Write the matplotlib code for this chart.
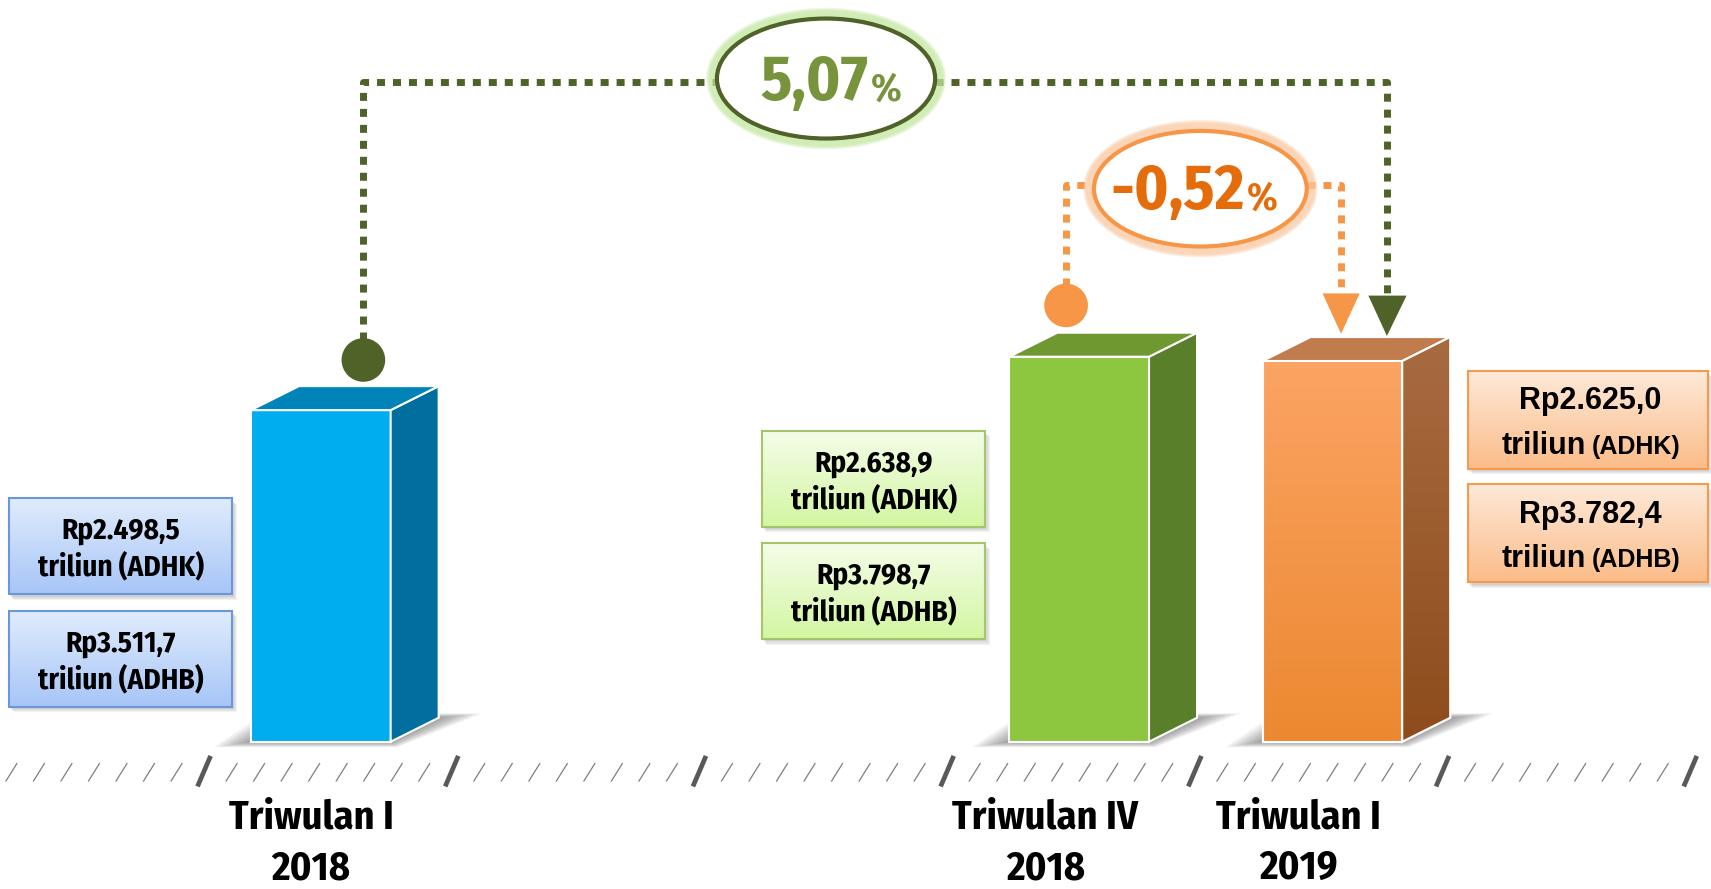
import numpy as np
import matplotlib.pyplot as plt
from matplotlib.patches import Polygon, Rectangle, Ellipse
from matplotlib.colors import to_rgba

# values shown in the chart
quarters = ['Triwulan I\n2018', 'Triwulan IV\n2018', 'Triwulan I\n2019']
adhk = ['Rp2.498,5', 'Rp2.638,9', 'Rp2.625,0']
adhb = ['Rp3.511,7', 'Rp3.798,7', 'Rp3.782,4']
bar_heights = [304, 353, 349]       # drawn height of each block (picture units)
growth = ['5,07', '-0,52']

NARROW = ['Fira Sans Condensed', 'DejaVu Sans']
WIDE = ['Liberation Sans', 'DejaVu Sans']

# layout, in units of the 1568x815 reference view
W, H = 1568, 815
base_y = 680
bar_x = [230, 925, 1157]
bar_w = 128
dx, dy = 44, 22

side_col = ['#006E9E', '#5A7F2A', '#9A5C2E']
top_col = ['#0084B7', '#6F9830', '#C17C4E']

fig = plt.figure(figsize=(17.11, 8.89), dpi=100)
ax = fig.add_axes([0, 0, 1, 1])
ax.set_xlim(0, W)
ax.set_ylim(H, 0)
ax.axis('off')


def gradient(patch, c_top, c_bot, y0, y1, x0, x1, z):
    n = 256
    a = np.array(to_rgba(c_top))
    b = np.array(to_rgba(c_bot))
    t = np.linspace(0, 1, n)[:, None]
    img = (a * (1 - t) + b * t)[:, None, :]
    im = ax.imshow(img, extent=(x0, x1, y1, y0), origin='upper',
                   aspect='auto', zorder=z, interpolation='bilinear')
    im.set_clip_path(patch)


# soft shadows on the floor behind each block
for x in bar_x:
    outer = np.array([(x - 34, base_y + 5), (x + 12, base_y - dy - 4),
                      (x + bar_w + dx + 40, base_y - dy - 4), (x + bar_w + 6, base_y + 5)])
    inner = np.array([(x, base_y), (x + dx, base_y - dy),
                      (x + bar_w + dx, base_y - dy), (x + bar_w, base_y)])
    for k in range(10):
        t = k / 9
        ax.add_patch(Polygon(outer * (1 - t) + inner * t, closed=True, facecolor='#4a4a4a',
                             edgecolor='none', alpha=0.07, zorder=1))

# blocks: front faces through ax.bar, side and top as polygons
fronts = ax.bar(bar_x, [-h for h in bar_heights], bottom=base_y, width=bar_w, align='edge',
                color=['#00AEEF', '#8DC63F', '#F79646'], edgecolor='white', linewidth=1.5, zorder=3)
for i, (x, h) in enumerate(zip(bar_x, bar_heights)):
    ty = base_y - h
    side = Polygon([(x + bar_w, ty), (x + bar_w + dx, ty - dy), (x + bar_w + dx, base_y - dy),
                    (x + bar_w, base_y)], closed=True, facecolor=side_col[i],
                   edgecolor='white', linewidth=1.5, zorder=3)
    top = Polygon([(x, ty), (x + dx, ty - dy), (x + bar_w + dx, ty - dy), (x + bar_w, ty)],
                  closed=True, facecolor=top_col[i], edgecolor='white', linewidth=1.5, zorder=3)
    ax.add_patch(side)
    ax.add_patch(top)
    if i == 2:
        gradient(fronts[i], '#FBA463', '#EC8830', ty, base_y, x, x + bar_w, 3.5)
        gradient(side, '#A86B40', '#8E4C1C', ty - dy, base_y, x + bar_w, x + bar_w + dx, 3.5)
        ax.add_patch(Polygon(side.get_xy(), closed=True, fill=False, edgecolor='white',
                             linewidth=1.5, zorder=3.6))
        ax.add_patch(Rectangle((x, ty), bar_w, h, fill=False, edgecolor='white',
                               linewidth=1.5, zorder=3.6))

# hatched base line
thick = np.arange(187, W + 20, 227)
step = 227 / 9
for xt in thick:
    ax.plot([xt - 6, xt + 6], [721, 693], color='#595959', lw=3.4, solid_capstyle='butt', zorder=2)
thin = []
for xt in np.concatenate([[187 - 227], thick]):
    for j in range(1, 9):
        thin.append(xt + j * step)
for xs in thin:
    if 0 < xs < W:
        ax.plot([xs - 5, xs + 5], [716, 700], color='#7F7F7F', lw=0.9, zorder=2)

# quarter labels
label_x = [285, 958, 1190]
for x, q in zip(label_x, quarters):
    l1, l2 = q.split('\n')
    ax.text(x, 750, l1, ha='center', va='center', fontsize=29, fontweight='bold',
            family=NARROW, color='black')
    ax.text(x, 796, l2, ha='center', va='center', fontsize=29, fontweight='bold',
            family=NARROW, color='black')

# value boxes
box_x = [8, 698, 1345]
box_w = [205, 205, 220]
box_y = [(457, 560), (395, 498), (340, 444)]
box_h = [88, 88, 90]
box_top = ['#E0ECFD', '#F4FDE8', '#FEEADA']
box_bot = ['#A7C5F7', '#D3F6A2', '#FBBC88']
box_edge = ['#6A97DA', '#A5C56C', '#F59A4E']
for i in range(3):
    for k, (val, kind) in enumerate([(adhk[i], 'ADHK'), (adhb[i], 'ADHB')]):
        x0 = box_x[i]
        y0 = box_y[i][k]
        w = box_w[i]
        hh = box_h[i]
        for s in range(4):
            ax.add_patch(Rectangle((x0 + 1 + s, y0 + 2 + s), w, hh, facecolor='#505050',
                                   edgecolor='none', alpha=0.07, zorder=4))
        r = Rectangle((x0, y0), w, hh, facecolor='white', edgecolor='none', zorder=5)
        ax.add_patch(r)
        gradient(r, box_top[i], box_bot[i], y0, y0 + hh, x0, x0 + w, 5.2)
        ax.add_patch(Rectangle((x0, y0), w, hh, fill=False, edgecolor=box_edge[i],
                               linewidth=1.5, zorder=5.5))
        cx = x0 + w / 2
        if i < 2:
            ax.text(cx, y0 + 30, val, ha='center', va='center', fontsize=21,
                    fontweight='bold', family=NARROW, zorder=6)
            ax.text(cx, y0 + 63, 'triliun (' + kind + ')', ha='center', va='center',
                    fontsize=21, fontweight='bold', family=NARROW, zorder=6)
        else:
            ax.text(cx + 2, y0 + 28, val, ha='center', va='center', fontsize=22,
                    fontweight='bold', family=WIDE, zorder=6)
            ax.text(cx - 2, y0 + 76, 'triliun', ha='right', va='baseline', fontsize=22,
                    fontweight='bold', family=WIDE, zorder=6)
            ax.text(cx + 4, y0 + 76, '(' + kind + ')', ha='left', va='baseline', fontsize=18,
                    fontweight='bold', family=WIDE, zorder=6)

# growth connectors
olive = '#4F6228'
orange = '#F79646'
dot_style = dict(lw=5, dashes=(1.15, 1.15), dash_capstyle='butt', zorder=2)

ax.plot([333, 333, 657], [312, 75, 75], color=olive, **dot_style)
ax.plot([857, 1271, 1271], [75, 75, 272], color=olive, **dot_style)
ax.add_patch(Ellipse((333, 330), 40, 40, facecolor=olive, edgecolor='none', zorder=4))
ax.add_patch(Polygon([(1254, 271), (1289, 271), (1271, 308)], closed=True,
                     facecolor=olive, edgecolor='none', zorder=4))

ax.plot([977, 977, 1003], [262, 170, 170], color=orange, **dot_style)
ax.plot([1198, 1229, 1229], [170, 170, 270], color=orange, **dot_style)
ax.add_patch(Ellipse((977, 280), 40, 40, facecolor=orange, edgecolor='none', zorder=4))
ax.add_patch(Polygon([(1212, 269), (1246, 269), (1229, 306)], closed=True,
                     facecolor=orange, edgecolor='none', zorder=4))

ell = [((757, 72), 200, 110, olive, '#C5E8A0', '#77933C', 796, 92),
       ((1100, 173), 195, 106, orange, '#FBC9A2', '#E46C0A', 1141, 192)]
for (c, ew, eh, edge, glow, tc, tx, ty), g in zip(ell, growth):
    for k in range(8, 0, -1):
        ax.add_patch(Ellipse(c, ew + 2 * k, eh + 2 * k, fill=False, edgecolor=glow,
                             lw=3, alpha=0.3, zorder=5))
    ax.add_patch(Ellipse(c, ew, eh, facecolor='white', edgecolor=edge, lw=3, zorder=6))
    ax.text(tx, ty, g, ha='right', va='baseline', fontsize=46, fontweight='bold',
            family=NARROW, color=tc, zorder=7)
    ax.text(tx + 2, ty, '%', ha='left', va='baseline', fontsize=28, fontweight='bold',
            family=NARROW, color=tc, zorder=7)

ax.set_xlim(0, W)
ax.set_ylim(H, 0)
fig.savefig('out.png', dpi=100, facecolor='white')
